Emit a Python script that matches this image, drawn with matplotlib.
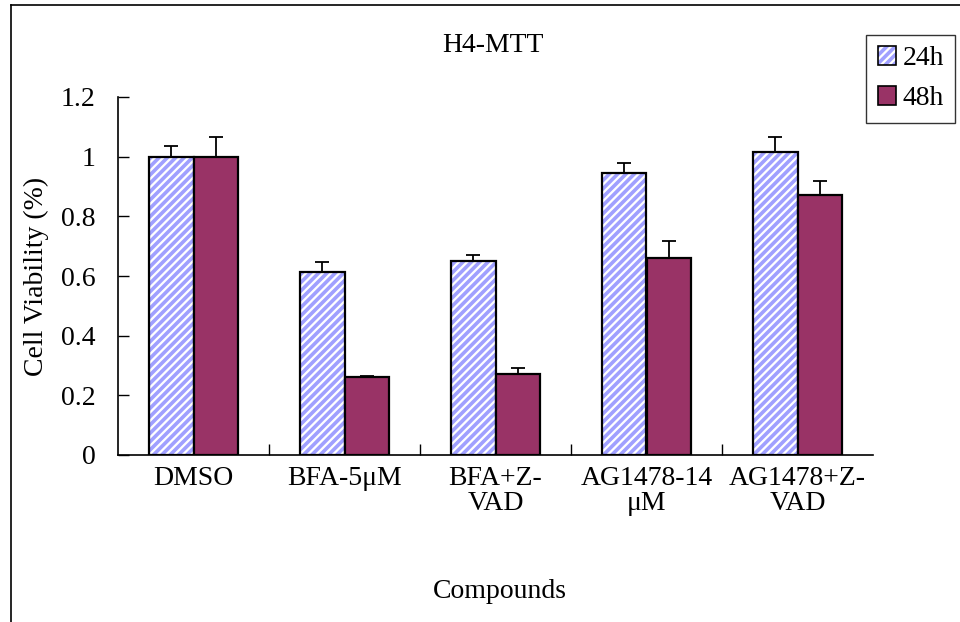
import numpy as np
import matplotlib
matplotlib.use("Agg")
import matplotlib.pyplot as plt
from matplotlib.lines import Line2D
from matplotlib.patches import Patch

plt.rcParams['font.family'] = ['Liberation Serif', 'DejaVu Serif']
plt.rcParams['hatch.linewidth'] = 2.6

# data
categories = ["DMSO", "BFA-5\u03bcM", "BFA+Z-\nVAD", "AG1478-14\n\u03bcM", "AG1478+Z-\nVAD"]
vals_24h = [1.00, 0.613, 0.650, 0.945, 1.015]
err_24h = [0.035, 0.033, 0.020, 0.035, 0.050]
vals_48h = [1.00, 0.26, 0.27, 0.66, 0.872]
err_48h = [0.065, 0.006, 0.020, 0.058, 0.045]

col_hatch = '#A0A0FF'
col_48 = '#993366'
fs = 20

fig = plt.figure(figsize=(9.6, 6.22), dpi=100)
ax = fig.add_axes([118/960, 1-455/622, 755/960, 358/622])

x = np.arange(len(categories))
w = 0.295

# 24h: white with light blue stripes, black outline drawn on top
ax.bar(x - w/2, vals_24h, w, color='white', edgecolor=col_hatch, hatch='////', linewidth=0, zorder=2)
ax.bar(x - w/2, vals_24h, w, fill=False, edgecolor='black', linewidth=1.6, zorder=3)
ax.bar(x + w/2, vals_48h, w, color=col_48, edgecolor='black', linewidth=1.6, zorder=3)

ax.errorbar(x - w/2, vals_24h, yerr=[np.zeros(5), err_24h], fmt='none', ecolor='black',
            elinewidth=1.3, capsize=5, capthick=1.3, zorder=4)
ax.errorbar(x + w/2, vals_48h, yerr=[np.zeros(5), err_48h], fmt='none', ecolor='black',
            elinewidth=1.3, capsize=5, capthick=1.3, zorder=4)

ax.set_xlim(-0.5, 4.5)
ax.set_ylim(0, 1.2)
ax.set_yticks([0, 0.2, 0.4, 0.6, 0.8, 1.0, 1.2])
ax.set_yticklabels(['0', '0.2', '0.4', '0.6', '0.8', '1', '1.2'])
ax.set_xticks(x)
ax.set_xticklabels(categories, multialignment='center', linespacing=1.0)
ax.set_xticks([0.5, 1.5, 2.5, 3.5], minor=True)
ax.tick_params(axis='x', which='major', length=0, pad=8, labelsize=fs)
ax.tick_params(axis='x', which='minor', direction='in', length=8, width=1)
ax.tick_params(axis='y', direction='in', length=8, width=1, labelsize=fs, pad=16)

for s in ['top', 'right']:
    ax.spines[s].set_visible(False)
for s in ['left', 'bottom']:
    ax.spines[s].set_linewidth(1.2)

ax.set_ylabel('Cell Viability (%)', fontsize=fs, va='center')
ax.yaxis.set_label_coords(36/960, 1-276/622, transform=fig.transFigure)
fig.text(500/960, 1-592/622, 'Compounds', fontsize=fs, ha='center', va='center')
fig.text(493/960, 1-46/622, 'H4-MTT', fontsize=fs, ha='center', va='center')

h24 = (Patch(facecolor='white', edgecolor=col_hatch, hatch='////', linewidth=0),
       Patch(fill=False, edgecolor='black', linewidth=1.2))
h48 = Patch(facecolor=col_48, edgecolor='black', linewidth=1.2)
leg = fig.legend([h24, h48], ['24h', '48h'], loc='upper right',
                 bbox_to_anchor=(955/960, 1-35/622), fontsize=fs, frameon=True,
                 fancybox=False, edgecolor='black', handlelength=0.65, handleheight=0.65,
                 handletextpad=0.25, borderpad=0.4, labelspacing=0.55, borderaxespad=0)
leg.get_frame().set_linewidth(1.0)

# outer chart frame (left and top edges)
fig.add_artist(Line2D([11/960, 11/960], [0, 1-5/622], color='black', lw=1.2))
fig.add_artist(Line2D([11/960, 1], [1-5/622, 1-5/622], color='black', lw=1.2))

fig.savefig('out.png', dpi=100)
